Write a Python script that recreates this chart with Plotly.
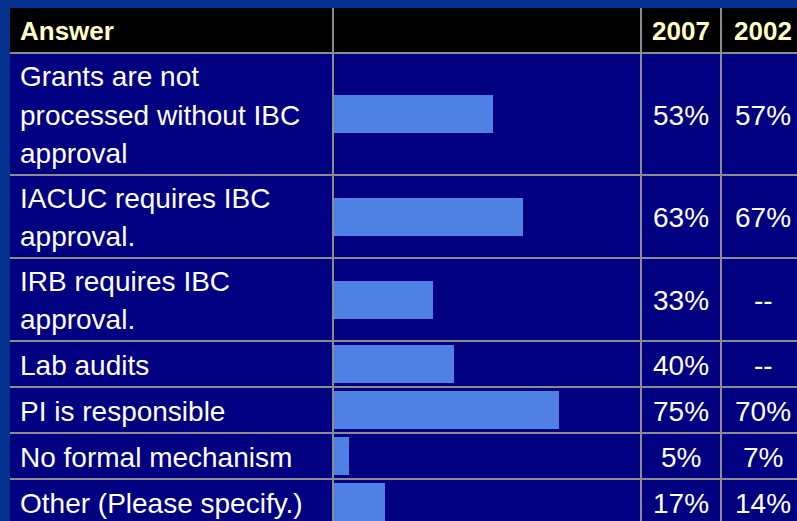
import plotly.graph_objects as go

# ---------------- data ----------------
answers = [
    "Grants are not<br>processed without IBC<br>approval",
    "IACUC requires IBC<br>approval.",
    "IRB requires IBC<br>approval.",
    "Lab audits",
    "PI is responsible",
    "No formal mechanism",
    "Other (Please specify.)",
]
pct_2007 = [53, 63, 33, 40, 75, 5, 17]
pct_2002 = [57, 67, None, None, 70, 7, 14]
header_labels = ["Answer", "2007", "2002"]

# ---------------- layout constants (pixels) ----------------
W, H = 797, 521
TABLE_LEFT = 10
HEADER_TOP, HEADER_BOTTOM = 8, 53
ROW_HEIGHTS = [122, 83, 83, 46, 46, 46, 46]
COL_EDGES = [TABLE_LEFT, 333, 641, 721, 810]
BAR_LEFT = 334
PX_PER_PCT = 3.0
LINE_PITCH = 38.5
TEXT_X = 18

OUTER_BG = "#05318f"
HEADER_BG = "#000000"
CELL_BG = "#000080"
GRID = "#8c8c8c"
BAR = "#4f81e4"
HEAD_TXT = "#ffffc4"
FONT = "Liberation Sans, Arial, sans-serif"

row_tops = [HEADER_BOTTOM]
for h in ROW_HEIGHTS:
    row_tops.append(row_tops[-1] + h)
row_centers = [(row_tops[i] + row_tops[i + 1]) / 2 for i in range(len(ROW_HEIGHTS))]

fig = go.Figure()

# bars on their own axis (percent scale)
bar_span_pct = (COL_EDGES[2] - BAR_LEFT) / PX_PER_PCT
fig.add_trace(go.Bar(
    x=pct_2007, y=row_centers, orientation="h", width=38,
    marker=dict(color=BAR, line=dict(width=0)),
    xaxis="x2", yaxis="y", hoverinfo="skip", showlegend=False,
))

shapes = []
shapes.append(dict(type="rect", xref="x", yref="y", x0=TABLE_LEFT, x1=COL_EDGES[-1],
                   y0=HEADER_TOP, y1=HEADER_BOTTOM, fillcolor=HEADER_BG,
                   line=dict(width=0), layer="below"))
shapes.append(dict(type="rect", xref="x", yref="y", x0=TABLE_LEFT, x1=COL_EDGES[-1],
                   y0=HEADER_BOTTOM, y1=row_tops[-1], fillcolor=CELL_BG,
                   line=dict(width=0), layer="below"))
for yv in row_tops:
    shapes.append(dict(type="line", xref="x", yref="y", x0=TABLE_LEFT, x1=COL_EDGES[-1],
                       y0=yv, y1=yv, line=dict(color=GRID, width=2), layer="above"))
for xv in COL_EDGES[1:-1]:
    shapes.append(dict(type="line", xref="x", yref="y", x0=xv, x1=xv,
                       y0=HEADER_TOP, y1=row_tops[-1], line=dict(color=GRID, width=2),
                       layer="above"))

annotations = []
col_centers = [(COL_EDGES[2] + COL_EDGES[3]) / 2, (COL_EDGES[3] + 805) / 2]
hdr_y = (HEADER_TOP + HEADER_BOTTOM) / 2
hdr_font = dict(family=FONT, size=26, color=HEAD_TXT, weight="bold")
annotations.append(dict(text=header_labels[0], x=TEXT_X, y=hdr_y, xref="x", yref="y",
                        xanchor="left", yanchor="middle", showarrow=False, font=hdr_font))
for lab, cx in zip(header_labels[1:], col_centers):
    annotations.append(dict(text=lab, x=cx, y=hdr_y, xref="x", yref="y",
                            xanchor="center", yanchor="middle", showarrow=False,
                            font=hdr_font))

body_font = dict(family=FONT, size=28, color="white")
for i, cy in enumerate(row_centers):
    lines = answers[i].split("<br>")
    n = len(lines)
    for k, line in enumerate(lines):
        ly = cy + 1 + (k - (n - 1) / 2) * LINE_PITCH
        annotations.append(dict(text=line, x=TEXT_X, y=ly, xref="x", yref="y",
                                xanchor="left", yanchor="middle", align="left",
                                showarrow=False, font=body_font))
    for vals, cx in zip([pct_2007, pct_2002], col_centers):
        v = vals[i]
        txt = "--" if v is None else f"{v}%"
        annotations.append(dict(text=txt, x=cx, y=cy + 1, xref="x", yref="y",
                                xanchor="center", yanchor="middle", showarrow=False,
                                font=body_font))

fig.update_layout(
    width=W, height=H,
    margin=dict(l=0, r=0, t=0, b=0, pad=0),
    paper_bgcolor=OUTER_BG, plot_bgcolor="rgba(0,0,0,0)",
    xaxis=dict(range=[0, W], domain=[0, 1], visible=False, fixedrange=True),
    xaxis2=dict(range=[0, bar_span_pct], domain=[BAR_LEFT / W, COL_EDGES[2] / W],
                visible=False, fixedrange=True, anchor="y"),
    yaxis=dict(range=[H, 0], domain=[0, 1], visible=False, fixedrange=True),
    shapes=shapes, annotations=annotations,
    bargap=0, showlegend=False,
)

fig.write_html(
    "out.html",
    config={"displayModeBar": False},
    post_script=(
        "document.body.style.margin='0';"
        "document.body.style.padding='0';"
        "document.body.style.overflow='hidden';"
        f"document.body.style.background='{OUTER_BG}';"
    ),
)
